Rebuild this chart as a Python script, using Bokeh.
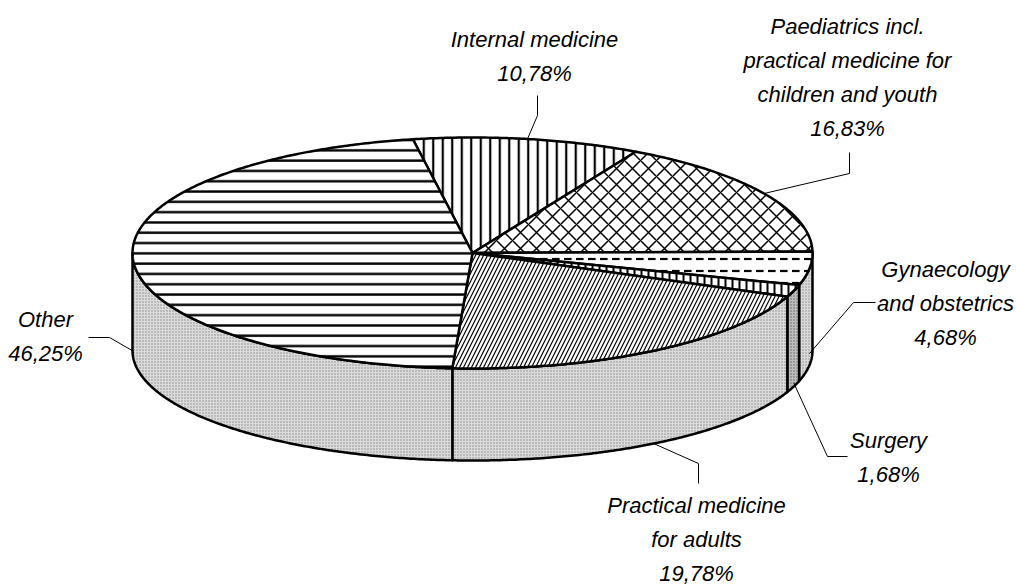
import numpy as np
from bokeh.plotting import figure
from bokeh.models import Range1d
from bokeh.core.properties import value
from bokeh.embed import file_html
from bokeh.resources import INLINE

# ---- data ----
categories = ["Internal medicine",
              "Paediatrics incl. practical medicine for children and youth",
              "Gynaecology and obstetrics",
              "Surgery",
              "Practical medicine for adults",
              "Other"]
label_lines = [["Internal medicine"],
               ["Paediatrics incl.", "practical medicine for", "children and youth"],
               ["Gynaecology", "and obstetrics"],
               ["Surgery"],
               ["Practical medicine", "for adults"],
               ["Other"]]
shares = [10.78, 16.83, 4.68, 1.68, 19.78, 46.25]

# ---- layout / style ----
START = -10.1          # degrees, clockwise from 12 o'clock
CX, CY, RX, RY = 472.0, 252.5, 340.0, 115.5   # top ellipse (screen px)
CYB, RYB = 350.0, 110.0                        # bottom ellipse
FONT = "Liberation Sans"
FSIZE = "22px"
LINE_H = 34.0
TEXT_DY = -7

label_pos = [(534, 46), (847, 33), (945, 276), (888, 447), (696, 512), (45, 326)]
leader_pts = [[(537, 95), (537, 115)],
              [(849, 152), (849, 173)],
              [(875, 302), (853, 302)],
              [(847, 456), (827, 456)],
              [(698, 483), (698, 463)],
              [(88, 337), (109, 337)]]
anchor_frac = [None, None, 0.88, 0.96, 1.0, 0.94]

top_style = [dict(hatch_pattern="|", hatch_scale=9.5, hatch_weight=2.2),
             dict(hatch_pattern="x", hatch_scale=16, hatch_weight=1.5),
             dict(hatch_pattern='"', hatch_scale=12, hatch_weight=2.2),
             dict(hatch_pattern="|", hatch_scale=7, hatch_weight=2),
             dict(hatch_pattern="/", hatch_scale=8, hatch_weight=1.2),
             dict(hatch_pattern="-", hatch_scale=10.3, hatch_weight=2.4)]
side_common = dict(fill_color="#dadada", hatch_pattern=".", hatch_scale=3, hatch_color="#888888", hatch_weight=1)
side_style = [side_common, side_common, side_common,
              dict(fill_color="#bdbdbd", hatch_pattern=".", hatch_scale=3, hatch_color="#666666", hatch_weight=1),
              side_common, side_common]


def top_pt(t):
    r = np.radians(t)
    return CX + RX * np.sin(r), CY - RY * np.cos(r)


def bot_pt(t):
    r = np.radians(t)
    return CX + RX * np.sin(r), CYB - RYB * np.cos(r)


p = figure(width=1016, height=587, x_range=Range1d(0, 1016), y_range=Range1d(587, 0),
           output_backend="svg", toolbar_location=None, min_border=0,
           background_fill_color="white", border_fill_color="white")
p.axis.visible = False
p.grid.visible = False
p.outline_line_color = None

total = float(sum(shares))
bounds = [START]
for s in shares:
    bounds.append(bounds[-1] + 360.0 * s / total)

# side faces (front half: 90..270 deg)
for i in range(len(shares)):
    a, b = bounds[i], bounds[i + 1]
    for off in (-360, 0, 360):
        lo, hi = max(a + off, 90), min(b + off, 270)
        if hi > lo:
            ts = np.linspace(lo, hi, max(int((hi - lo) * 2), 4))
            tx, ty = top_pt(ts)
            bx, by = bot_pt(ts[::-1])
            xs = list(tx) + list(bx)
            ys = list(ty) + list(by)
            p.patch(xs, ys, line_color="black", line_width=2.5, line_join="round",
                    **side_style[i])

# top faces
for i in range(len(shares)):
    a, b = bounds[i], bounds[i + 1]
    ts = np.linspace(a, b, max(int((b - a) * 2), 4))
    tx, ty = top_pt(ts)
    xs = [CX] + list(tx)
    ys = [CY] + list(ty)
    p.patch(xs, ys, fill_color="white", hatch_color="black", line_color="black",
            line_width=2.5, line_join="round", **top_style[i])

# labels and leaders
for i in range(len(shares)):
    mid = (bounds[i] + bounds[i + 1]) / 2.0
    if anchor_frac[i] is None:
        ax, ay = top_pt(mid)
    else:
        tx, ty = top_pt(mid)
        bx, by = bot_pt(mid)
        ax, ay = tx, ty + anchor_frac[i] * (by - ty)
    pts = leader_pts[i] + [(ax, ay)]
    p.line([q[0] for q in pts], [q[1] for q in pts], line_color="black", line_width=1)

    lx, ly = label_pos[i]
    lines = label_lines[i] + [f"{shares[i]:.2f}".replace(".", ",") + "%"]
    p.text(x=[lx] * len(lines), y=[ly + TEXT_DY + k * LINE_H for k in range(len(lines))], text=lines,
           text_font=value(FONT), text_font_size=FSIZE, text_font_style="italic",
           text_align="center", text_baseline="alphabetic", text_color="black")

open("out.html", "w").write(file_html(p, INLINE))
